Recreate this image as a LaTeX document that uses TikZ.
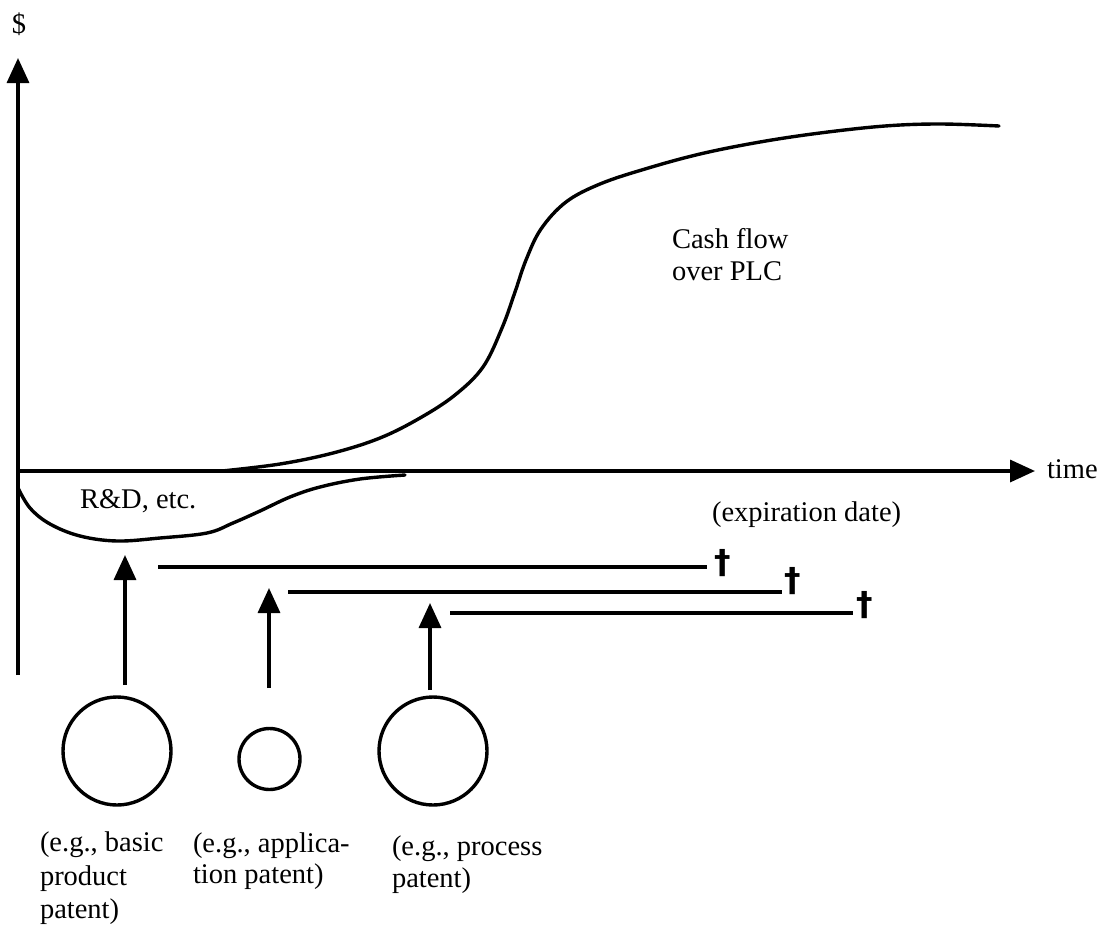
\documentclass[tikz,border=0pt]{standalone}
\usepackage{fontspec}
\setmainfont{Liberation Serif}
\newfontfamily\daggerfont{DejaVu Sans}
\usetikzlibrary{arrows.meta}

\tikzset{
  thick line/.style={line width=3.4pt, line cap=butt},
  up arrow/.style={thick line, -{Triangle[length=25pt,width=22pt]}},
  lbl/.style={inner sep=0pt, outer sep=0pt, anchor=base west,
    font=\fontsize{28.5}{33}\selectfont},
  patent/.style={circle, draw, line width=3.4pt, inner sep=0pt},
  cross/.style={inner sep=0pt, outer sep=0pt,
    font=\daggerfont\bfseries\fontsize{33}{33}\selectfont},
}

\begin{document}
\begin{tikzpicture}[x=1pt, y=-1pt]
\useasboundingbox (0,0) rectangle (1110,926);

% axes
\coordinate (ybot) at (18,675);
\coordinate (ytop) at (18,58);
\coordinate (xorg) at (18,471);
\coordinate (xend) at (1035,471);
\draw[up arrow] (ybot) -- (ytop);
\draw[up arrow] (xorg) -- (xend);
\node[lbl, anchor=base] (dollar) at (19,33) {\$};
\node[lbl] (time) at (1047,478) {time};

% cash flow over the product life cycle
\draw[thick line, line cap=round] plot[smooth, tension=0.6] coordinates {
  (222,471) (280,464) (333,453) (380,438) (420,418) (455,395)
  (483,367) (502,328) (515,292) (526,260) (541,229) (566,202)
  (600,184) (645,169) (700,154) (760,142) (820,133) (885,126)
  (940,124) (999,126)};
% R&D outlay
\draw[thick line, line cap=round] plot[smooth, tension=0.6] coordinates {
  (18,488) (30,508) (50,524) (80,536) (117,541) (160,538)
  (207,533) (233,523) (260,511) (290,497) (320,487) (360,479)
  (405,475)};

\node[lbl] (cf1) at (672,248) {Cash flow};
\node[lbl] (cf2) at (672,280) {over PLC};
\node[lbl] (rd) at (80,508) {R\&D, etc.};
\node[lbl] (exp) at (712,521) {(expiration date)};

% patent lifetimes
\coordinate (l1a) at (158,567); \coordinate (l1b) at (707,567);
\coordinate (l2a) at (288,592); \coordinate (l2b) at (782,592);
\coordinate (l3a) at (450,613); \coordinate (l3b) at (853,613);
\draw[thick line] (l1a) -- (l1b);
\draw[thick line] (l2a) -- (l2b);
\draw[thick line] (l3a) -- (l3b);
\node[cross] (d1) at (723,563) {†};
\node[cross] (d2) at (793,581) {†};
\node[cross] (d3) at (865,605) {†};

% patents
\node[patent, minimum size=108pt] (p1) at (117,751) {};
\node[patent, minimum size=61pt] (p2) at (269.5,759) {};
\node[patent, minimum size=108pt] (p3) at (433,751) {};

\coordinate (a1s) at (125,685); \coordinate (a1t) at (125,555);
\coordinate (a2s) at (269,688); \coordinate (a2t) at (269,588);
\coordinate (a3s) at (430,690); \coordinate (a3t) at (430,603);
\draw[up arrow] (a1s) -- (a1t);
\draw[up arrow] (a2s) -- (a2t);
\draw[up arrow] (a3s) -- (a3t);

\node[lbl] (t1a) at (40,851) {(e.g., basic};
\node[lbl] (t1b) at (40,885) {product};
\node[lbl] (t1c) at (40,918) {patent)};
\node[lbl] (t2a) at (193,852) {(e.g., applica-};
\node[lbl] (t2b) at (193,883) {tion patent)};
\node[lbl] (t3a) at (392,855) {(e.g., process};
\node[lbl] (t3b) at (392,887) {patent)};
\end{tikzpicture}
\end{document}
